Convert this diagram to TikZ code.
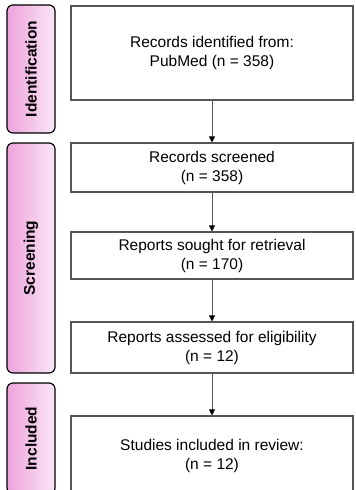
\documentclass[tikz,border=0pt]{standalone}
\usepackage{fontspec}
\setmainfont{Liberation Sans}
\usetikzlibrary{arrows.meta}
\definecolor{boxline}{HTML}{555555}
\definecolor{pinkL}{HTML}{EDA3DB}
\definecolor{pinkR}{HTML}{FAE6F6}
\begin{document}
\begin{tikzpicture}[x=1pt,y=-1pt,
  stage/.style={draw=boxline, line width=1.1pt, fill=white, align=center,
    font=\fontsize{15.5}{19}\selectfont, inner sep=0pt, minimum width=282pt},
  phase/.style={draw=black, line width=1.2pt, rounded corners=6pt,
    left color=pinkL, right color=pinkR, minimum width=48pt, inner sep=0pt},
  phaselabel/.style={rotate=90, font=\fontsize{15.5}{19}\selectfont\bfseries, inner sep=0pt},
  flow/.style={draw=boxline, line width=0.8pt, -{Triangle[width=6pt,length=6pt,color=black]}}]
\useasboundingbox (0,0) rectangle (356,490);
\clip (0,0) rectangle (356,490);
% phase bars
\node[phase, minimum height=128pt] (idbar) at (31,69) {};
\node[phaselabel] (idtext) at (idbar.center) {Identification};
\node[phase, minimum height=230pt] (scbar) at (31,258) {};
\node[phaselabel] (sctext) at (scbar.center) {Screening};
\node[phase, minimum height=111pt] (inbar) at (31,438.5) {};
\node[phaselabel] (intext) at (inbar.center) {Included};
% boxes
\node[stage, minimum height=94pt] (b1) at (212,53) {Records identified from:\\PubMed (n = 358)};
\node[stage, minimum height=49pt] (b2) at (212,167.5) {Records screened\\(n = 358)};
\node[stage, minimum height=47pt] (b3) at (212,255.5) {Reports sought for retrieval\\(n = 170)};
\node[stage, minimum height=51pt] (b4) at (212,347.5) {Reports assessed for eligibility\\(n = 12)};
\node[stage, minimum height=80pt] (b5) at (212,456) {Studies included in review:\\(n = 12)};
% arrows
\draw[flow] (b1) -- (b2);
\draw[flow] (b2) -- (b3);
\draw[flow] (b3) -- (b4);
\draw[flow] (b4) -- (b5);
\end{tikzpicture}
\end{document}
